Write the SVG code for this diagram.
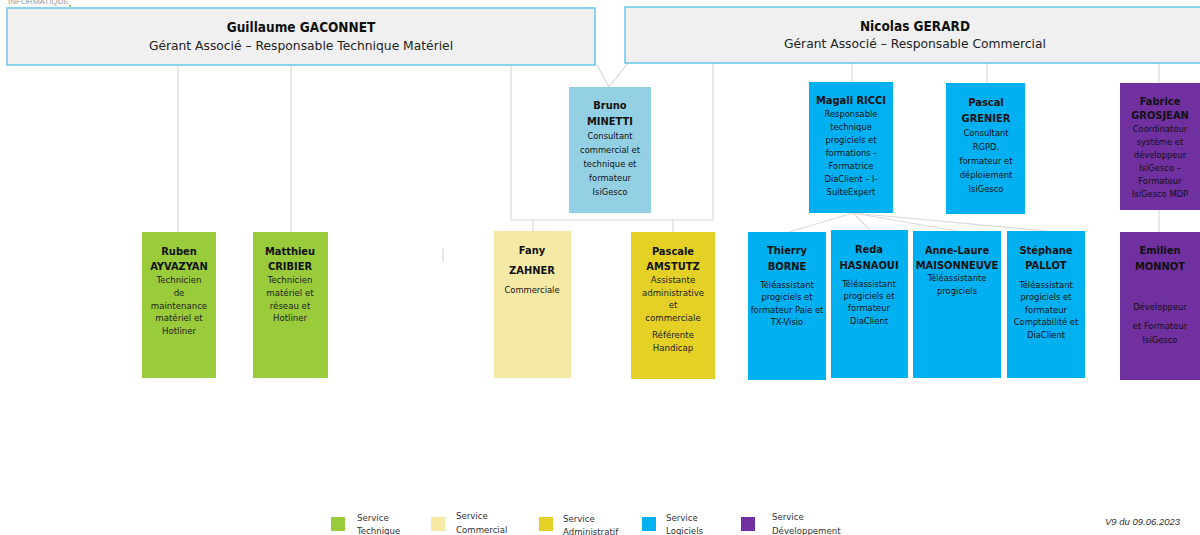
<svg xmlns="http://www.w3.org/2000/svg" width="1200" height="535" viewBox="0 0 1200 535">
<style>
.c{font-family:"DejaVu Sans Condensed","DejaVu Sans",sans-serif;font-stretch:condensed;fill:#111;text-anchor:middle}
.nm{font-size:11px;font-weight:bold}
.ds{font-size:9.3px}
.gt{font-family:"DejaVu Sans","Liberation Sans",sans-serif;font-size:8.6px;fill:#222;text-anchor:middle}
.hd{font-family:"DejaVu Sans Condensed","DejaVu Sans",sans-serif;font-stretch:condensed;font-size:13.5px;font-weight:bold;fill:#111;text-anchor:middle}
.hs{font-family:"DejaVu Sans","Liberation Sans",sans-serif;font-size:12.3px;fill:#222;text-anchor:middle}
.lg{font-family:"DejaVu Sans","Liberation Sans",sans-serif;font-size:8.6px;fill:#333}
.top{fill:#f0f0f0;stroke:#69c6ea;stroke-width:1.5}
.tec{fill:#9acb3b}
.com{fill:#f4eaa6}
.adm{fill:#e5d126}
.log{fill:#00b0f0}
.lbl{fill:#94d0e3}
.dev{fill:#7030a0}
#connectors line,#connectors polyline{stroke:#d9d9d9;stroke-width:1.2;fill:none}
</style>
<rect width="1200" height="535" fill="#ffffff"/>
<text x="8" y="4" font-family="Liberation Sans,sans-serif" font-size="8" fill="#9a9a9a">INFORMATIQUE</text>
<rect x="69" y="5" width="2" height="2" fill="#8cd050"/>
<g id="connectors">
<line x1="178" y1="65" x2="178" y2="232"/>
<line x1="291" y1="65" x2="291" y2="232"/>
<polyline points="511,65 511,220 713,220 713,63"/>
<line x1="533" y1="220" x2="533" y2="231"/>
<line x1="673" y1="220" x2="673" y2="232"/>
<polyline points="597,65 609,87 628,63"/>
<line x1="852" y1="63" x2="852" y2="82"/>
<line x1="987" y1="63" x2="987" y2="83"/>
<line x1="1159" y1="63" x2="1159" y2="83"/>
<line x1="1159" y1="210" x2="1159" y2="232"/>
<line x1="853" y1="213" x2="789" y2="232"/>
<line x1="853" y1="213" x2="870" y2="230"/>
<line x1="853" y1="213" x2="957" y2="231"/>
<line x1="853" y1="213" x2="1047" y2="231"/>
<line x1="443" y1="248" x2="443" y2="262"/>
<line x1="1050" y1="245" x2="1050" y2="259"/>
</g>
<g id="gaconnet">
<rect class="top" x="7" y="8" width="588" height="57"/>
<text class="hd" x="301" y="32">Guillaume GACONNET</text>
<text class="hs" x="301" y="50">Gérant Associé – Responsable Technique Matériel</text>
</g>
<g id="gerard">
<rect class="top" x="625" y="7" width="585" height="56"/>
<text class="hd" x="915" y="31">Nicolas GERARD</text>
<text class="hs" x="915" y="48">Gérant Associé – Responsable Commercial</text>
</g>
<g id="minetti">
<rect class="lbl" x="569" y="87" width="82" height="126"/>
<text class="c nm" x="610" y="109">Bruno</text>
<text class="c nm" x="610" y="125">MINETTI</text>
<text class="c ds" x="610" y="139">Consultant</text>
<text class="c ds" x="610" y="153">commercial et</text>
<text class="c ds" x="610" y="167">technique et</text>
<text class="c ds" x="610" y="181">formateur</text>
<text class="c ds" x="610" y="195">IsiGesco</text>
</g>
<g id="ricci">
<rect class="log" x="809" y="82" width="84" height="131"/>
<text class="c nm" x="851" y="104">Magali RICCI</text>
<text class="c ds" x="851" y="117">Responsable</text>
<text class="c ds" x="851" y="130">technique</text>
<text class="c ds" x="851" y="143">progiciels et</text>
<text class="c ds" x="851" y="156">formations -</text>
<text class="c ds" x="851" y="169">Formatrice</text>
<text class="c ds" x="851" y="182">DiaClient – I-</text>
<text class="c ds" x="851" y="195">SuiteExpert</text>
</g>
<g id="grenier">
<rect class="log" x="946" y="83" width="79" height="131"/>
<text class="c nm" x="986" y="106">Pascal</text>
<text class="c nm" x="986" y="122">GRENIER</text>
<text class="c ds" x="986" y="136">Consultant</text>
<text class="c ds" x="986" y="150">RGPD,</text>
<text class="c ds" x="986" y="164">formateur et</text>
<text class="c ds" x="986" y="178">déploiement</text>
<text class="c ds" x="986" y="192">IsiGesco</text>
</g>
<g id="grosjean">
<rect class="dev" x="1120" y="83" width="82" height="127"/>
<text class="c nm" x="1160" y="105">Fabrice</text>
<text class="c nm" x="1160" y="119">GROSJEAN</text>
<text class="c ds" x="1160" y="132">Coordinateur</text>
<text class="c ds" x="1160" y="145">système et</text>
<text class="c ds" x="1160" y="158">développeur</text>
<text class="c ds" x="1160" y="171">IsiGesco –</text>
<text class="c ds" x="1160" y="184">Formateur</text>
<text class="c ds" x="1160" y="197">IsiGesco MDP</text>
</g>
<g id="ayvazyan">
<rect class="tec" x="142" y="232" width="74" height="146"/>
<text class="c nm" x="179" y="255">Ruben</text>
<text class="c nm" x="179" y="270">AYVAZYAN</text>
<text class="gt" x="179" y="283">Technicien</text>
<text class="gt" x="179" y="296">de</text>
<text class="gt" x="179" y="309">maintenance</text>
<text class="gt" x="179" y="321">matériel et</text>
<text class="gt" x="179" y="334">Hotliner</text>
</g>
<g id="cribier">
<rect class="tec" x="253" y="232" width="75" height="146"/>
<text class="c nm" x="290" y="255">Matthieu</text>
<text class="c nm" x="290" y="270">CRIBIER</text>
<text class="gt" x="290" y="283">Technicien</text>
<text class="gt" x="290" y="296">matériel et</text>
<text class="gt" x="290" y="309">réseau et</text>
<text class="gt" x="290" y="321">Hotliner</text>
</g>
<g id="zahner">
<rect class="com" x="494" y="231" width="77" height="147"/>
<text class="c nm" x="532" y="254">Fany</text>
<text class="c nm" x="532" y="274">ZAHNER</text>
<text class="c ds" x="532" y="293" font-size="8.5">Commerciale</text>
</g>
<g id="amstutz">
<rect class="adm" x="631" y="232" width="84" height="147"/>
<text class="c nm" x="673" y="255">Pascale</text>
<text class="c nm" x="673" y="270">AMSTUTZ</text>
<text class="gt" x="673" y="283">Assistante</text>
<text class="gt" x="673" y="296">administrative</text>
<text class="gt" x="673" y="308">et</text>
<text class="gt" x="673" y="321">commerciale</text>
<text class="gt" x="673" y="338">Référente</text>
<text class="gt" x="673" y="351">Handicap</text>
</g>
<g id="borne">
<rect class="log" x="748" y="232" width="78" height="148"/>
<text class="c nm" x="787" y="254">Thierry</text>
<text class="c nm" x="787" y="270">BORNE</text>
<text class="c ds" x="787" y="288" font-size="8.7">Téléassistant</text>
<text class="c ds" x="787" y="300" font-size="8.7">progiciels et</text>
<text class="c ds" x="787" y="313" font-size="8.5">formateur Paie  et</text>
<text class="c ds" x="787" y="325" font-size="8.7">TX-Visio</text>
</g>
<g id="hasnaoui">
<rect class="log" x="831" y="230" width="77" height="148"/>
<text class="c nm" x="869" y="253">Reda</text>
<text class="c nm" x="869" y="269">HASNAOUI</text>
<text class="c ds" x="869" y="287" font-size="8.7">Téléassistant</text>
<text class="c ds" x="869" y="299" font-size="8.7">progiciels et</text>
<text class="c ds" x="869" y="311" font-size="8.7">formateur</text>
<text class="c ds" x="869" y="324" font-size="8.7">DiaClient</text>
</g>
<g id="maisonneuve">
<rect class="log" x="913" y="231" width="88" height="147"/>
<text class="c nm" x="957" y="254">Anne-Laure</text>
<text class="c nm" x="957" y="269">MAISONNEUVE</text>
<text class="c ds" x="957" y="281" font-size="8.7">Téléassistante</text>
<text class="c ds" x="957" y="294" font-size="8.7">progiciels</text>
</g>
<g id="pallot">
<rect class="log" x="1007" y="231" width="78" height="147"/>
<text class="c nm" x="1046" y="254">Stéphane</text>
<text class="c nm" x="1046" y="269">PALLOT</text>
<text class="c ds" x="1046" y="288" font-size="8.7">Téléassistant</text>
<text class="c ds" x="1046" y="300" font-size="8.7">progiciels et</text>
<text class="c ds" x="1046" y="313" font-size="8.7">formateur</text>
<text class="c ds" x="1046" y="325" font-size="8.7">Comptabilité et</text>
<text class="c ds" x="1046" y="338" font-size="8.7">DiaClient</text>
</g>
<g id="monnot">
<rect class="dev" x="1120" y="232" width="82" height="148"/>
<text class="c nm" x="1160" y="254">Emilien</text>
<text class="c nm" x="1160" y="270">MONNOT</text>
<text class="c ds" x="1160" y="310" font-size="8.7">Développeur</text>
<text class="c ds" x="1160" y="329" font-size="8.7">et Formateur</text>
<text class="c ds" x="1160" y="343" font-size="8.7">IsiGesco</text>
</g>
<g id="legend">
<rect class="tec" x="331" y="517" width="14" height="14"/>
<text class="lg" x="357" y="521">Service</text>
<text class="lg" x="357" y="534">Technique</text>
<rect class="com" x="431" y="517" width="14" height="14"/>
<text class="lg" x="456" y="519">Service</text>
<text class="lg" x="456" y="533">Commercial</text>
<rect class="adm" x="539" y="517" width="14" height="14"/>
<text class="lg" x="563" y="522">Service</text>
<text class="lg" x="563" y="535">Administratif</text>
<rect class="log" x="642" y="517" width="14" height="14"/>
<text class="lg" x="666" y="521">Service</text>
<text class="lg" x="666" y="534">Logiciels</text>
<rect class="dev" x="741" y="517" width="14" height="14"/>
<text class="lg" x="772" y="520">Service</text>
<text class="lg" x="772" y="534">Développement</text>
</g>
<text x="1105" y="525" font-family="Liberation Sans,sans-serif" font-size="9.5" font-style="italic" fill="#333">V9 du 09.06.2023</text>
</svg>
